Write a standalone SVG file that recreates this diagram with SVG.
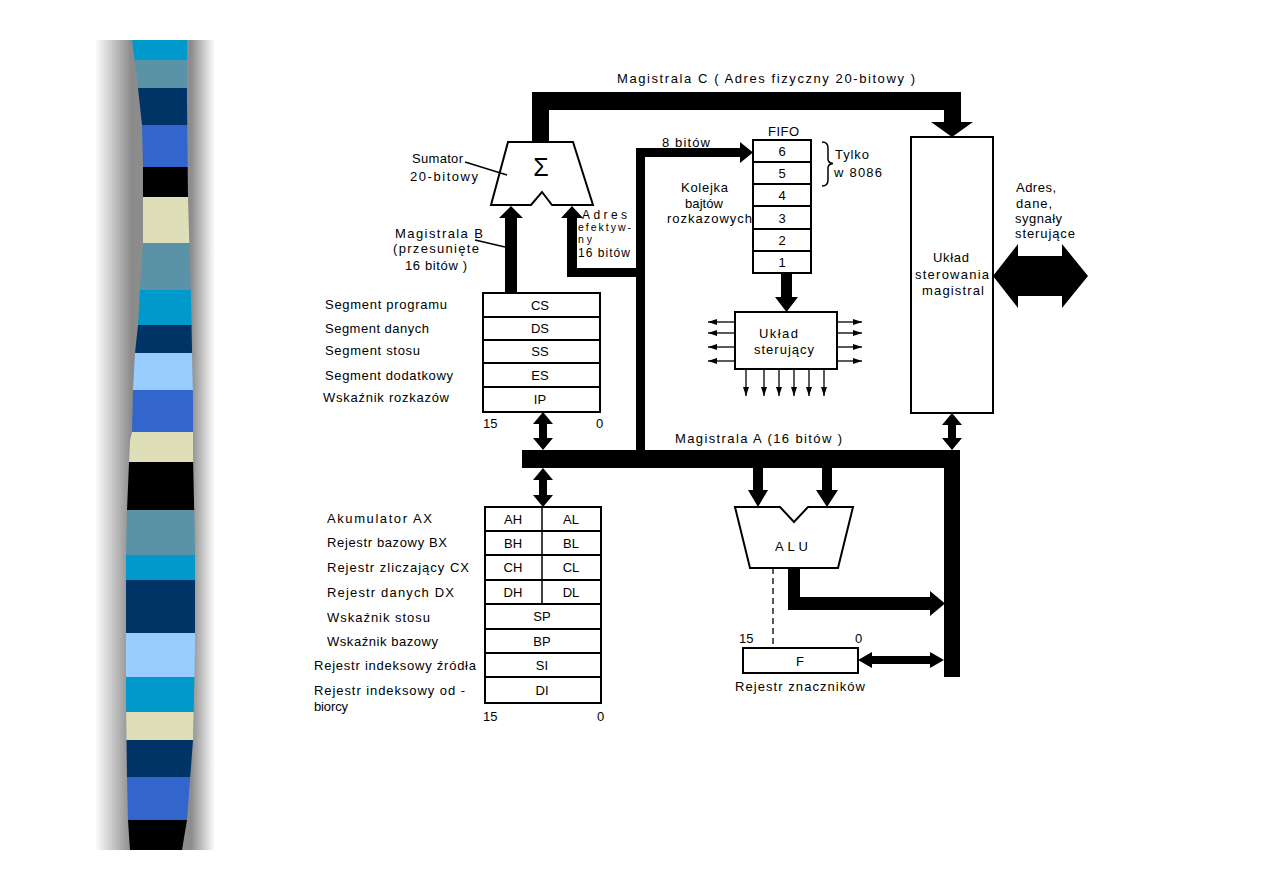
<svg xmlns="http://www.w3.org/2000/svg" width="1263" height="893" viewBox="0 0 1263 893">
<defs>
<linearGradient id="shadow" x1="0" y1="0" x2="1" y2="0">
<stop offset="0" stop-color="#ffffff"/>
<stop offset="0.3" stop-color="#8c8c8c"/>
<stop offset="0.8" stop-color="#8c8c8c"/>
<stop offset="1" stop-color="#ffffff"/>
</linearGradient>
<clipPath id="barclip">
<path d="M132,40 L138,88 L142,125 L143,167 L143,243 L140,290 L138,325 L135,353 L133,390 L132,432 L130,440 L127,510 L126,555 L126,700 L127,777 L128,820 L130,850 L182,850 L187,820 L190,780 L193,740 L195,650 L195,550 L193,455 L193,400 L191,300 L188,200 L187,100 L187,40 Z"/>
</clipPath>
<marker id="sm" viewBox="0 0 9 6" refX="9" refY="3" markerWidth="9" markerHeight="6" markerUnits="userSpaceOnUse" orient="auto">
<path d="M0,0 L9,3 L0,6 Z" fill="#000"/>
</marker>
<style>
.t{font-family:"Liberation Sans","DejaVu Sans",sans-serif;font-size:13px;fill:#000}
.s{font-size:12px}
.xs{font-size:10.5px}
.box{fill:#fff;stroke:#000;stroke-width:2}
.bus{fill:#000;stroke:none}
.thin{stroke:#000;stroke-width:1.5;fill:none}
.sig{stroke:#000;stroke-width:1.3;fill:none;marker-end:url(#sm)}
</style>
</defs>
<rect width="1263" height="893" fill="#fff"/>
<g id="decor">
<rect x="95" y="40" width="120" height="810" fill="url(#shadow)"/>
<g clip-path="url(#barclip)">
<rect x="120" y="40" width="80" height="20" fill="#0099cc"/>
<rect x="120" y="60" width="80" height="28" fill="#5a92a8"/>
<rect x="120" y="88" width="80" height="37" fill="#003366"/>
<rect x="120" y="125" width="80" height="42" fill="#3366cc"/>
<rect x="120" y="167" width="80" height="30" fill="#000000"/>
<rect x="120" y="197" width="80" height="46" fill="#dedeb8"/>
<rect x="120" y="243" width="80" height="47" fill="#5a92a8"/>
<rect x="120" y="290" width="80" height="35" fill="#0099cc"/>
<rect x="120" y="325" width="80" height="28" fill="#003366"/>
<rect x="120" y="353" width="80" height="37" fill="#99ccff"/>
<rect x="120" y="390" width="80" height="42" fill="#3366cc"/>
<rect x="120" y="432" width="80" height="30" fill="#dedeb8"/>
<rect x="120" y="462" width="80" height="48" fill="#000000"/>
<rect x="120" y="510" width="80" height="45" fill="#5a92a8"/>
<rect x="120" y="555" width="80" height="25" fill="#0099cc"/>
<rect x="120" y="580" width="80" height="53" fill="#003366"/>
<rect x="120" y="633" width="80" height="44" fill="#99ccff"/>
<rect x="120" y="677" width="80" height="35" fill="#0099cc"/>
<rect x="120" y="712" width="80" height="28" fill="#dedeb8"/>
<rect x="120" y="740" width="80" height="37" fill="#003366"/>
<rect x="120" y="777" width="80" height="43" fill="#3366cc"/>
<rect x="120" y="820" width="80" height="30" fill="#000000"/>
</g>
</g>

<g id="connectors">
<path class="bus" d="M532,143 L532,92 L961,92 L961,122 L973,122 L952,137 L931,122 L944,122 L944,110 L549,110 L549,143 Z"/>
<path class="bus" d="M505,293 L505,218 L499,218 L511,206 L523,218 L517,218 L517,293 Z"/>
<path class="bus" d="M567,277 L567,218 L561,218 L572,206 L583,218 L577,218 L577,268 L640,268 L640,277 Z"/>
<path class="bus" d="M636,452 L636,148 L740,148 L740,142 L753,152.5 L740,163 L740,157 L645,157 L645,452 Z"/>
<path class="bus" d="M522,450 L960,450 L960,677 L944,677 L944,468 L522,468 Z"/>
<path class="bus" d="M543,412 L553,424 L547,424 L547,438 L553,438 L543,450 L533,438 L539,438 L539,424 L533,424 Z"/>
<path class="bus" d="M543,468 L553,480 L547,480 L547,495 L553,495 L543,507 L533,495 L539,495 L539,480 L533,480 Z"/>
<path class="bus" d="M952,413 L962,425 L956,425 L956,438 L962,438 L952,450 L942,438 L948,438 L948,425 L942,425 Z"/>
<path class="bus" d="M753,468 L763,468 L763,490 L768,490 L758,507 L748,490 L753,490 Z"/>
<path class="bus" d="M822,468 L832,468 L832,490 L838,490 L827,507 L816,490 L822,490 Z"/>
<path class="bus" d="M788,568 L800,568 L800,597 L930,597 L930,591 L945,603.5 L930,616 L930,610 L788,610 Z"/>
<path class="bus" d="M858,660 L872,652 L872,656 L930,656 L930,652 L944,660 L930,668 L930,664 L872,664 L872,668 Z"/>
<path class="bus" d="M781,273 L792,273 L792,297 L798,297 L786.5,312 L775,297 L781,297 Z"/>
<path class="bus" d="M993,276 L1018,244 L1018,256 L1062,256 L1062,244 L1088,276 L1062,308 L1062,296 L1018,296 L1018,308 Z"/>
<line x1="773" y1="568" x2="773" y2="648" stroke="#000" stroke-width="1.3" stroke-dasharray="6,4"/>
<line class="sig" x1="735" y1="322" x2="708" y2="322"/>
<line class="sig" x1="735" y1="333" x2="708" y2="333"/>
<line class="sig" x1="735" y1="347" x2="708" y2="347"/>
<line class="sig" x1="735" y1="361" x2="708" y2="361"/>
<line class="sig" x1="837" y1="322" x2="862" y2="322"/>
<line class="sig" x1="837" y1="333" x2="862" y2="333"/>
<line class="sig" x1="837" y1="347" x2="862" y2="347"/>
<line class="sig" x1="837" y1="361" x2="862" y2="361"/>
<line class="sig" x1="746" y1="369" x2="746" y2="396"/>
<line class="sig" x1="764" y1="369" x2="764" y2="396"/>
<line class="sig" x1="779" y1="369" x2="779" y2="396"/>
<line class="sig" x1="794" y1="369" x2="794" y2="396"/>
<line class="sig" x1="809" y1="369" x2="809" y2="396"/>
<line class="sig" x1="824" y1="369" x2="824" y2="396"/>
</g>

<g id="bus-labels">
<text class="t" x="617" y="83" textLength="298" lengthAdjust="spacing">Magistrala C ( Adres fizyczny  20-bitowy )</text>
<text class="t" x="395" y="238" textLength="88" lengthAdjust="spacing">Magistrala B</text>
<text class="t" x="393" y="253" textLength="86" lengthAdjust="spacing">(przesunięte</text>
<text class="t" x="405" y="270" textLength="62" lengthAdjust="spacing">16 bitów )</text>
<line class="thin" x1="475" y1="240" x2="505" y2="247"/>
<text class="t s" x="582" y="219" textLength="45" lengthAdjust="spacing">Adres</text>
<text class="t xs" x="578" y="231" textLength="53" lengthAdjust="spacing">efektyw-</text>
<text class="t xs" x="578" y="243" textLength="14" lengthAdjust="spacing">ny</text>
<text class="t s" x="578" y="257" textLength="52" lengthAdjust="spacing">16 bitów</text>
<text class="t" x="662" y="147" textLength="48" lengthAdjust="spacing">8 bitów</text>
<text class="t" x="675" y="443" textLength="167" lengthAdjust="spacing">Magistrala A (16 bitów )</text>
<text class="t" x="1016" y="192" textLength="40" lengthAdjust="spacing">Adres,</text>
<text class="t" x="1016" y="208" textLength="36" lengthAdjust="spacing">dane,</text>
<text class="t" x="1015" y="223" textLength="47" lengthAdjust="spacing">sygnały</text>
<text class="t" x="1015" y="238" textLength="60" lengthAdjust="spacing">sterujące</text>
</g>

<g id="summator">
<path class="box" d="M508,142 L573,142 L593,205 L552,205 L542,192 L531,205 L491,205 Z"/>
<text x="541" y="176" text-anchor="middle" style="font-family:'Liberation Sans','DejaVu Sans',sans-serif;font-size:25px">Σ</text>
<text class="t" x="412" y="163" textLength="51" lengthAdjust="spacing">Sumator</text>
<text class="t" x="410" y="181" textLength="68" lengthAdjust="spacing">20-bitowy</text>
<line class="thin" x1="465" y1="162" x2="507" y2="175"/>
</g>

<g id="fifo">
<text class="t" x="768" y="136" textLength="31" lengthAdjust="spacing">FIFO</text>
<rect class="box" x="753" y="140" width="58" height="22"/>
<rect class="box" x="753" y="162" width="58" height="22"/>
<rect class="box" x="753" y="184" width="58" height="22"/>
<rect class="box" x="753" y="206" width="58" height="23"/>
<rect class="box" x="753" y="229" width="58" height="22"/>
<rect class="box" x="753" y="251" width="58" height="22"/>
<text class="t" x="782" y="156" text-anchor="middle">6</text>
<text class="t" x="782" y="178" text-anchor="middle">5</text>
<text class="t" x="782" y="200" text-anchor="middle">4</text>
<text class="t" x="782" y="223" text-anchor="middle">3</text>
<text class="t" x="782" y="245" text-anchor="middle">2</text>
<text class="t" x="782" y="267" text-anchor="middle">1</text>
<path class="thin" d="M822,142 Q828,142 828,148 L828,159 Q828,163 833,163.5 Q828,164 828,168 L828,180 Q828,186 822,186"/>
<text class="t" x="835" y="159" textLength="34" lengthAdjust="spacing">Tylko</text>
<text class="t" x="834" y="177" textLength="48" lengthAdjust="spacing">w 8086</text>
<text class="t" x="681" y="192" textLength="47" lengthAdjust="spacing">Kolejka</text>
<text class="t" x="685" y="208" textLength="38" lengthAdjust="spacing">bajtów</text>
<text class="t" x="667" y="223" textLength="85" lengthAdjust="spacing">rozkazowych</text>
</g>

<g id="control-unit">
<rect class="box" x="735" y="312" width="102" height="57"/>
<text class="t" x="759" y="338" textLength="39" lengthAdjust="spacing">Układ</text>
<text class="t" x="754" y="354" textLength="60" lengthAdjust="spacing">sterujący</text>
</g>

<g id="bus-controller">
<rect class="box" x="911" y="137" width="82" height="276"/>
<text class="t" x="933" y="262" textLength="36" lengthAdjust="spacing">Układ</text>
<text class="t" x="915" y="279" textLength="74" lengthAdjust="spacing">sterowania</text>
<text class="t" x="922" y="295" textLength="62" lengthAdjust="spacing">magistral</text>
</g>

<g id="segment-registers">
<rect class="box" x="483" y="293" width="117" height="24"/>
<rect class="box" x="483" y="317" width="117" height="23"/>
<rect class="box" x="483" y="340" width="117" height="23"/>
<rect class="box" x="483" y="363" width="117" height="24"/>
<rect class="box" x="483" y="387" width="117" height="25"/>
<text class="t" x="540" y="310" text-anchor="middle">CS</text>
<text class="t" x="540" y="333" text-anchor="middle">DS</text>
<text class="t" x="540" y="356" text-anchor="middle">SS</text>
<text class="t" x="540" y="380" text-anchor="middle">ES</text>
<text class="t" x="540" y="404" text-anchor="middle">IP</text>
<text class="t" x="325" y="309" textLength="122" lengthAdjust="spacing">Segment programu</text>
<text class="t" x="325" y="333" textLength="104" lengthAdjust="spacing">Segment danych</text>
<text class="t" x="325" y="355" textLength="95" lengthAdjust="spacing">Segment stosu</text>
<text class="t" x="325" y="380" textLength="128" lengthAdjust="spacing">Segment dodatkowy</text>
<text class="t" x="323" y="402" textLength="126" lengthAdjust="spacing">Wskaźnik rozkazów</text>
<text class="t" x="483" y="428">15</text>
<text class="t" x="596" y="428">0</text>
</g>

<g id="general-registers">
<rect class="box" x="485" y="507" width="116" height="24"/>
<rect class="box" x="485" y="531" width="116" height="24"/>
<rect class="box" x="485" y="555" width="116" height="25"/>
<rect class="box" x="485" y="580" width="116" height="24"/>
<rect class="box" x="485" y="604" width="116" height="25"/>
<rect class="box" x="485" y="629" width="116" height="24"/>
<rect class="box" x="485" y="653" width="116" height="24"/>
<rect class="box" x="485" y="677" width="116" height="26"/>
<line x1="542" y1="507" x2="542" y2="604" stroke="#000" stroke-width="1.5"/>
<text class="t" x="513" y="524" text-anchor="middle">AH</text>
<text class="t" x="571" y="524" text-anchor="middle">AL</text>
<text class="t" x="513" y="548" text-anchor="middle">BH</text>
<text class="t" x="571" y="548" text-anchor="middle">BL</text>
<text class="t" x="513" y="572" text-anchor="middle">CH</text>
<text class="t" x="571" y="572" text-anchor="middle">CL</text>
<text class="t" x="513" y="597" text-anchor="middle">DH</text>
<text class="t" x="571" y="597" text-anchor="middle">DL</text>
<text class="t" x="542" y="621" text-anchor="middle">SP</text>
<text class="t" x="542" y="646" text-anchor="middle">BP</text>
<text class="t" x="542" y="670" text-anchor="middle">SI</text>
<text class="t" x="542" y="695" text-anchor="middle">DI</text>
<text class="t" x="327" y="523" textLength="105" lengthAdjust="spacing">Akumulator  AX</text>
<text class="t" x="327" y="547" textLength="120" lengthAdjust="spacing">Rejestr bazowy BX</text>
<text class="t" x="327" y="572" textLength="142" lengthAdjust="spacing">Rejestr zliczający CX</text>
<text class="t" x="327" y="597" textLength="127" lengthAdjust="spacing">Rejestr danych  DX</text>
<text class="t" x="327" y="622" textLength="103" lengthAdjust="spacing">Wskaźnik stosu</text>
<text class="t" x="327" y="646" textLength="111" lengthAdjust="spacing">Wskaźnik bazowy</text>
<text class="t" x="314" y="670" textLength="162" lengthAdjust="spacing">Rejestr indeksowy źródła</text>
<text class="t" x="314" y="695" textLength="151" lengthAdjust="spacing">Rejestr indeksowy od -</text>
<text class="t" x="314" y="711" textLength="34" lengthAdjust="spacing">biorcy</text>
<text class="t" x="483" y="721">15</text>
<text class="t" x="597" y="721">0</text>
</g>

<g id="alu">
<path class="box" d="M735,507 L780,507 L794,522 L808,507 L853,507 L838,568 L750,568 Z"/>
<text class="t" x="775" y="551" textLength="33" lengthAdjust="spacing">ALU</text>
</g>

<g id="flags-register">
<rect class="box" x="743" y="648" width="115" height="25"/>
<text class="t" x="800" y="666" text-anchor="middle">F</text>
<text class="t" x="739" y="643">15</text>
<text class="t" x="855" y="643">0</text>
<text class="t" x="735" y="691" textLength="130" lengthAdjust="spacing">Rejestr znaczników</text>
</g>
</svg>
